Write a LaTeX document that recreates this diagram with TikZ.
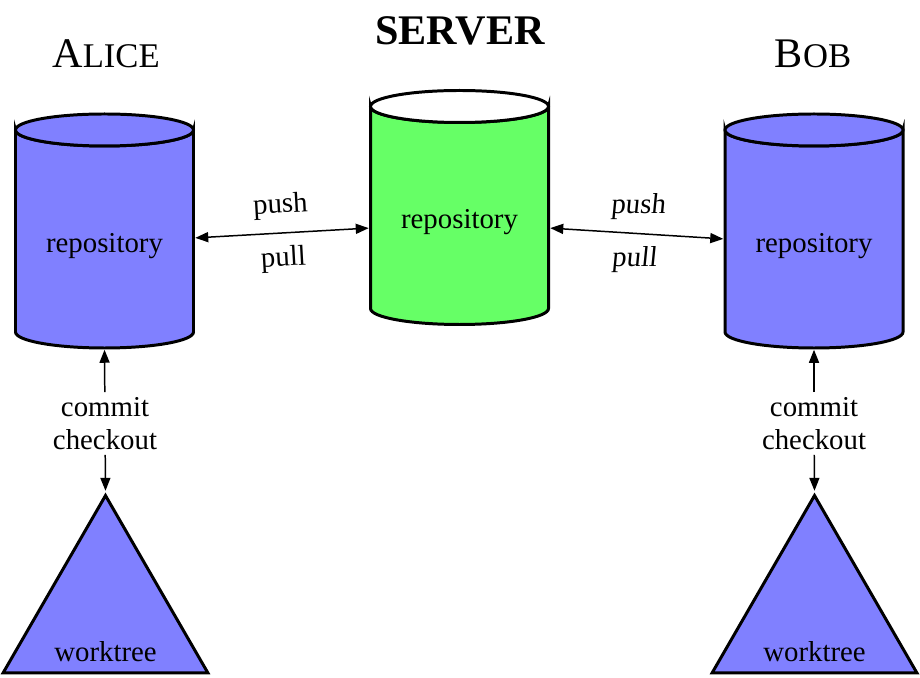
\documentclass[tikz,border=0pt]{standalone}
\usepackage{fontspec}
\setmainfont{Liberation Serif}
\usetikzlibrary{arrows.meta,shapes.geometric,positioning}
\definecolor{repoblue}{RGB}{128,128,255}
\definecolor{repogreen}{RGB}{102,255,102}
\newcommand{\drawrepo}[3]{%
  \draw[cyl, fill=#2] ([yshift=-3.2mm]#1.north west) -- ([yshift=3.2mm]#1.south west)
    arc[start angle=180, end angle=360, x radius=1.78cm, y radius=3.2mm]
    -- ([yshift=-3.2mm]#1.north east)
    arc[start angle=0, end angle=-180, x radius=1.78cm, y radius=3.2mm] -- cycle;
  \draw[cyl, fill=#3] ([yshift=-3.2mm]#1.north) ellipse[x radius=1.78cm, y radius=3.2mm];
}
\begin{document}
\begin{tikzpicture}[
  every node/.style={font=\fontsize{16.4}{18.8}\selectfont},
  title/.style={font=\fontsize{24}{28}\selectfont, anchor=base, inner sep=0pt},
  repo/.style={rectangle, minimum width=3.56cm, minimum height=4.68cm, inner sep=0pt, outer sep=0pt},
  cyl/.style={line width=1.7pt},
  tree/.style={regular polygon, regular polygon sides=3, minimum size=4.73cm, draw, line width=1.7pt, fill=repoblue, inner sep=0pt},
  conn/.style={line width=0.85pt, >={Triangle[length=2.6mm,width=2mm]}, shorten <=1pt, shorten >=1pt},
  cc/.style={align=center, inner sep=0.6mm}
]
  \useasboundingbox (0,0) rectangle (18.4,13.54);

  \node (alice) [title] at (2.12,12.18) {A{\fontsize{19.7}{20}\selectfont LICE}};
  \node (server) [title] at (9.2,12.64) {\bfseries SERVER};
  \node (bob) [title] at (16.26,12.18) {B{\fontsize{19.7}{20}\selectfont OB}};

  \node (repoA) [repo] at (2.09,8.92) {};
  \drawrepo{repoA}{repoblue}{repoblue}
  \node (repoAtxt) at ([yshift=-3mm]repoA.center) {repository};
  \node (repoS) [repo] at (9.19,9.39) {};
  \drawrepo{repoS}{repogreen}{white}
  \node (repoStxt) at ([yshift=-2.9mm]repoS.center) {repository};
  \node (repoB) [repo] at (16.28,8.92) {};
  \drawrepo{repoB}{repoblue}{repoblue}
  \node (repoBtxt) at ([yshift=-3mm]repoB.center) {repository};

  \node (wtA) [tree] at (2.11,1.264) {};
  \node (wtAtxt) at ([yshift=4.6mm]wtA.south) {worktree};
  \node (wtB) [tree] at (16.29,1.264) {};
  \node (wtBtxt) at ([yshift=4.6mm]wtB.south) {worktree};

  \node (ccA) [cc] at (2.1,5.07) {commit\\checkout};
  \node (ccB) [cc] at (16.28,5.07) {commit\\checkout};

  \draw [conn,<->] ([yshift=-1.4mm]repoA.east) --
    node [sloped, above=1.5mm] (pushA) {push}
    node [sloped, below=1.3mm] (pullA) {pull} ([yshift=-4.1mm]repoS.west);
  \draw [conn,<->] ([yshift=-4.1mm]repoS.east) --
    node [xslant=0.1, above=1.5mm] (pushB) {push}
    node [xslant=0.1, below=1.3mm] (pullB) {pull} ([yshift=-1.6mm]repoB.west);

  \draw [conn,->] (ccA) -- (repoA.south);
  \draw [conn,->] (ccA) -- (wtA.corner 1);
  \draw [conn,->] (ccB) -- (repoB.south);
  \draw [conn,->] (ccB) -- (wtB.corner 1);
\end{tikzpicture}
\end{document}
